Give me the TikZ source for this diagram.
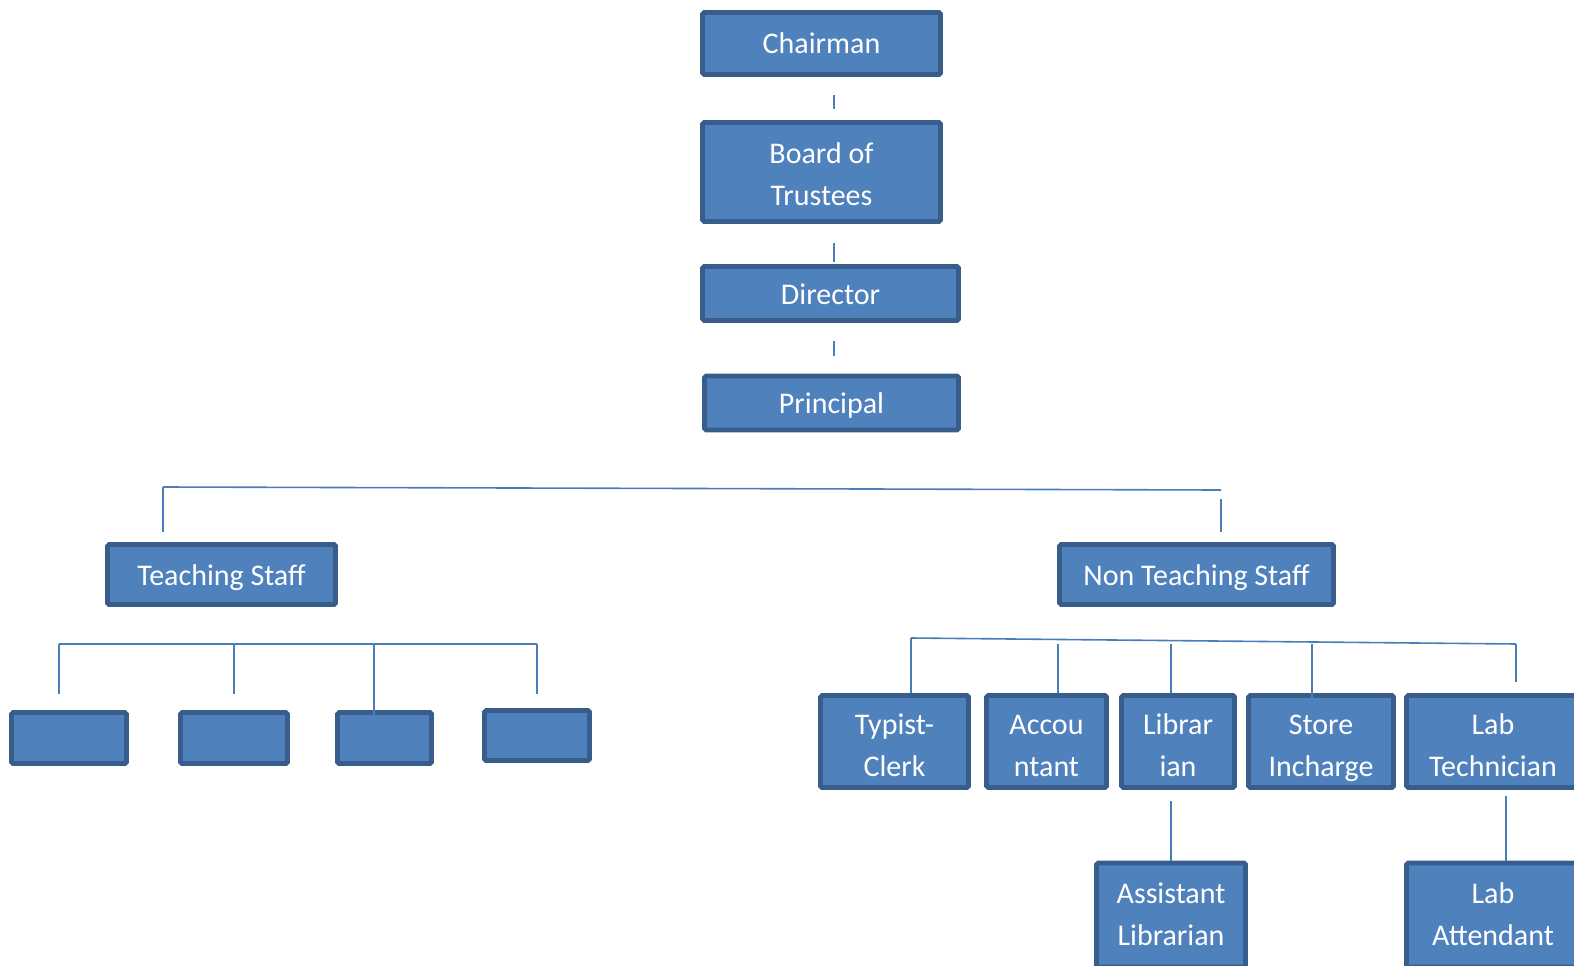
\documentclass[tikz,border=0pt]{standalone}
\usepackage{fontspec}
\setmainfont{Carlito}
\definecolor{boxfill}{HTML}{4F81BD}
\definecolor{boxline}{HTML}{385D8A}
\definecolor{linkline}{HTML}{4A7EBB}
\newcommand\padtop[1]{\rule{0pt}{#1}}
\tikzset{box/.style = {draw=boxline, fill=boxfill, line width=4.6pt, text=white,
                       align=center, inner sep=0, rounded corners=1.5pt,
                       font=\fontsize{30}{42}\selectfont,
                       execute at begin node=\rule{0pt}{29pt},
                       execute at end node=\rule[-8pt]{0pt}{8pt}}}
\tikzset{link/.style = {draw=linkline, line width=1.6pt}}

\begin{document}
\begin{tikzpicture}[x=1pt, y=-1pt]
      \useasboundingbox (0, 0) rectangle (1574, 966);

      \node [box, minimum width=238pt, minimum height=62pt] (chair) at (821.5, 43.5) {Chairman};
      \node [box, minimum width=238pt, minimum height=99pt] (board) at (821.5, 172) {\padtop{32pt}Board of\\Trustees};
      \node [box, minimum width=256pt, minimum height=54pt] (director) at (830.5, 293.5) {Director};
      \node [box, minimum width=254pt, minimum height=54pt] (principal) at (831.5, 403) {Principal};

      \node [box, minimum width=228pt, minimum height=60pt] (teach) at (221.5, 574.5) {Teaching Staff};
      \node [box, minimum width=274pt, minimum height=60pt] (nonteach) at (1196.5, 574.5) {Non Teaching Staff};

      \node [box, minimum width=115pt, minimum height=51pt] (blankA) at (69, 738) {};
      \node [box, minimum width=107pt, minimum height=51pt] (blankB) at (234, 738) {};
      \node [box, minimum width=94pt, minimum height=51pt] (blankC) at (384.5, 738) {};
      \node [box, minimum width=105pt, minimum height=50pt] (blankD) at (537, 735.5) {};

      \node [box, minimum width=148pt, minimum height=92pt] (typist) at (894.5, 741.5) {\padtop{36pt}Typist-\\Clerk};
      \node [box, minimum width=120pt, minimum height=92pt] (acc) at (1046.5, 741.5) {\padtop{36pt}Accou\\ntant};
      \node [box, minimum width=113pt, minimum height=92pt] (libr) at (1178, 741.5) {\padtop{36pt}Librar\\ian};
      \node [box, minimum width=145pt, minimum height=92pt] (store) at (1321, 741.5) {\padtop{36pt}Store\\Incharge};
      \node [box, minimum width=173pt, minimum height=92pt] (labtech) at (1493, 741.5) {\padtop{36pt}Lab\\Technician};

      \node [box, minimum width=149pt, minimum height=104pt] (asst) at (1171, 915) {\padtop{27pt}Assistant\\Librarian};
      \node [box, minimum width=173pt, minimum height=104pt] (attend) at (1493, 915) {\padtop{27pt}Lab\\Attendant};

      % top chain
      \coordinate (spine) at (834, 0);
      \draw [link, shorten <=18pt, shorten >=11pt] (chair.south -| spine) -- (board.north -| spine);
      \draw [link, shorten <=19pt, shorten >=2pt] (board.south -| spine) -- (director.north -| spine);
      \draw [link, shorten <=18pt, shorten >=18pt] (director.south -| spine) -- (principal.north -| spine);

      % staff split
      \coordinate (barL) at (163, 487);
      \coordinate (barR) at (1221, 490);
      \draw [link] (barL) -- (barR);
      \draw [link, shorten >=10pt] (barL) -- (teach.north -| barL);
      \draw [link, shorten <=9pt, shorten >=10pt] (barR) -- (nonteach.north -| barR);

      % teaching staff
      \coordinate (tbarL) at (59, 644);
      \coordinate (tbarR) at (537, 644);
      \draw [link] (tbarL) -- (tbarR);
      \draw [link, shorten >=16pt] (tbarL) -- (blankA.north -| tbarL);
      \draw [link, shorten >=16pt] (blankB.north |- tbarL) -- (blankB.north);
      \draw [link, shorten >=-5pt] ([xshift=-10.5pt]blankC.north |- tbarL) -- ([xshift=-10.5pt]blankC.north);
      \draw [link, shorten >=14pt] (tbarR) -- (blankD.north);

      % non teaching staff
      \coordinate (nbarL) at (911, 638);
      \coordinate (nbarR) at (1516, 644);
      \draw [link] (nbarL) -- (nbarR);
      \draw [link] (nbarL) -- (typist.north -| nbarL);
      \draw [link] ([xshift=11.5pt]acc.north |- nbarR) -- ([xshift=11.5pt]acc.north);
      \draw [link] ([xshift=-7pt]libr.north |- nbarR) -- ([xshift=-7pt]libr.north);
      \draw [link, shorten >=-10pt] ([xshift=-9pt]store.north |- nbarR) -- ([xshift=-9pt]store.north);
      \draw [link, shorten >=11pt] (nbarR) -- (labtech.north -| nbarR);

      \draw [link, shorten <=11pt] (asst.north |- libr.south) -- (asst.north);
      \draw [link, shorten <=6pt] ([xshift=13pt]labtech.south) -- ([xshift=13pt]attend.north);
    \end{tikzpicture}
\end{document}
